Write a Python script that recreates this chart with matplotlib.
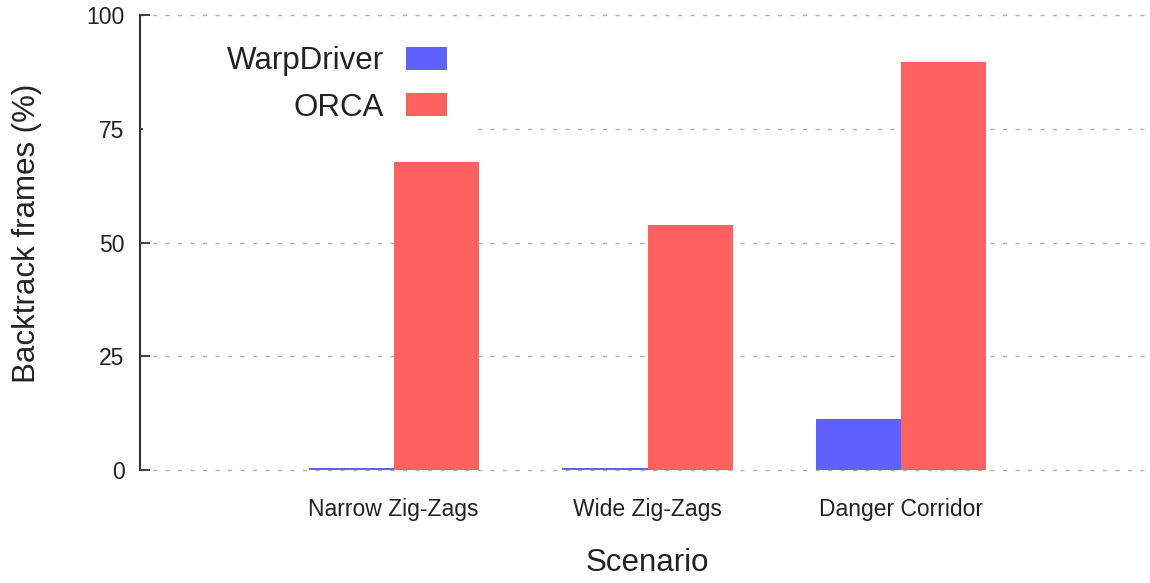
import matplotlib
matplotlib.use("Agg")
import matplotlib.pyplot as plt
from matplotlib.patches import Rectangle
import numpy as np

plt.rcParams['font.family'] = ['Liberation Sans', 'DejaVu Sans']

scenarios = ["Narrow Zig-Zags", "Wide Zig-Zags", "Danger Corridor"]
series_names = ["WarpDriver", "ORCA"]
warpdriver = [0.5, 0.5, 11.2]
orca = [67.7, 53.8, 89.7]
yticks = [0, 25, 50, 75, 100]

colors = ["#6060ff", "#ff6060"]

fig = plt.figure(figsize=(11.5, 5.83), dpi=100)
W, H = 1150, 583
ax = fig.add_axes([140 / W, 1 - 470 / H, 1015 / W, 455 / H])

x = np.arange(len(scenarios))
bw = 0.335
ax.bar(x - bw / 2, warpdriver, bw, color=colors[0], label=series_names[0], zorder=2)
ax.bar(x + bw / 2, orca, bw, color=colors[1], label=series_names[1], zorder=2)

ax.set_xlim(-1, 3)
ax.set_ylim(0, 100)
ax.set_yticks(yticks)
ax.set_yticklabels([str(v) for v in yticks])
ax.set_xticks(x)
ax.set_xticklabels(scenarios)

for s in ["top", "right", "bottom"]:
    ax.spines[s].set_visible(False)
ax.spines["left"].set_color("#333333")
ax.spines["left"].set_linewidth(1.5)

ax.tick_params(axis="y", direction="in", length=7, width=1.3, color="#333333",
               labelsize=16.5, pad=11, labelcolor="#222222")
ax.tick_params(axis="x", length=0, labelsize=16.5, pad=20, labelcolor="#222222")

ax.yaxis.grid(True, color="#b0b0b0", linestyle=(0, (3, 6)), linewidth=1.0, zorder=0)
ax.set_axisbelow(True)
for gl in ax.get_ygridlines():
    gl.set_clip_on(False)

# white background area behind the legend (hides gridline there)
ax.add_patch(Rectangle((0.003, (470 - 146) / 455), (470 - 143) / 1015, (146 - 22) / 455,
                       transform=ax.transAxes, facecolor="white", edgecolor="none",
                       zorder=1))

ax.set_ylabel("Backtrack frames (%)", fontsize=22.5, color="#222222", va="center")
ax.yaxis.set_label_coords((27 - 140) / 1015, (470 - 233) / 455)
ax.set_xlabel("Scenario", fontsize=22.5, color="#222222", va="center")
ax.xaxis.set_label_coords(0.5, (470 - 563) / 455)

leg = ax.legend(loc="upper right", bbox_to_anchor=(468 / W, 1 - 25 / H),
                bbox_transform=fig.transFigure, markerfirst=False,
                fontsize=22.5, handlelength=1.3, handleheight=0.76,
                handletextpad=0.73, labelspacing=0.53, borderpad=0.67,
                borderaxespad=0, frameon=False)
for t in leg.get_texts():
    t.set_color("#222222")

fig.savefig("out.png", dpi=100)
